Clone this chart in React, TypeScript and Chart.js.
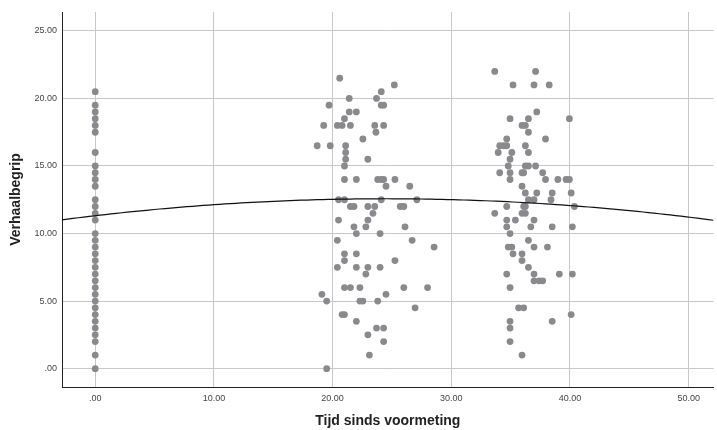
import React, { useEffect, useRef } from "react";
import { Chart, registerables } from "chart.js";

Chart.register(...registerables);

// Tijd sinds voormeting = 0 (all points at x = 0)
const GROUP0_SCORE = [
  20.5, 19.5, 19, 18.5, 18, 17.5, 16, 15, 14.5, 14, 13.5, 12.5, 12, 11.5, 11,
  10, 9.5, 9, 8.5, 8, 7.5, 7, 6.5, 6, 5.5, 5, 4.5, 4, 3.5, 3, 2.5, 2, 1, 0,
];

// Middle cluster (≈ 19–28)
const MID_TIME = [
  20.6, 25.2, 21.4, 24.1, 23.7, 19.7, 24.1, 24.3, 21.4, 22.0, 21.0, 19.25, 20.4, 20.8, 21.5, 23.55, 24.3,
  23.65, 22.55, 18.7, 19.8, 21.1, 21.1, 21.1, 22.97, 21.0, 21.0, 22.0, 23.8, 24.1, 24.3, 25.25, 24.5, 26.5,
  20.5, 21.0, 24.1, 27.1, 21.5, 21.8, 22.97, 23.55, 25.7, 26.0, 23.4, 20.5, 22.97, 21.8, 22.8, 26.1, 22.0,
  24.0, 20.4, 26.7, 28.55, 21.0, 22.0, 21.0, 25.25, 20.4, 22.0, 22.97, 24.0, 22.8, 21.0, 21.5, 22.3, 26.0,
  28.0, 19.1, 24.5, 19.5, 22.3, 22.55, 23.8, 26.95, 20.8, 21.0, 22.0, 23.7, 24.3, 22.97, 24.3, 23.1, 19.5,
];
const MID_SCORE = [
  21.5, 21, 20, 20.5, 20, 19.5, 19.5, 19.5, 19, 19, 18.5, 18, 18, 18, 18, 18, 18,
  17.5, 17, 16.5, 16.5, 16.5, 16, 15.5, 15.5, 15, 14, 14, 14, 14, 14, 14, 13.5, 13.5,
  12.5, 12.5, 12.5, 12.5, 12, 12, 12, 12, 12, 12, 11.5, 11, 11, 10.5, 10.5, 10.5, 10,
  10, 9.5, 9.5, 9, 8.5, 8.5, 8, 8, 7.5, 7.5, 7.5, 7.5, 7, 6, 6, 6, 6,
  6, 5.5, 5.5, 5, 5, 5, 5, 4.5, 4, 4, 3.5, 3, 3, 2.5, 2, 1, 0,
];

// Right cluster (≈ 33–41)
const RIGHT_TIME = [
  33.66, 37.1, 35.2, 36.97, 38.25, 37.2, 34.95, 36.5, 39.95, 35.96, 36.24, 36.5, 37.94, 34.67, 34.08, 34.4,
  34.67, 36.24, 33.95, 35.1, 36.5, 34.95, 34.8, 36.24, 36.5, 37.1, 34.08, 34.95, 35.96, 36.1, 37.7, 34.95,
  37.94, 38.98, 39.67, 39.95, 35.96, 36.24, 37.2, 38.5, 40.1, 36.5, 36.97, 38.4, 34.67, 36.1, 36.24, 40.37,
  33.66, 35.96, 36.24, 34.67, 35.4, 36.97, 34.67, 36.7, 38.5, 40.2, 34.95, 36.5, 34.8, 35.1, 36.97, 38.1,
  35.2, 35.96, 35.96, 36.5, 34.67, 36.97, 39.1, 40.2, 36.97, 37.4, 37.7, 34.95, 35.67, 36.1, 40.1, 34.95,
  38.5, 34.95, 34.95, 35.96,
];
const RIGHT_SCORE = [
  22, 22, 21, 21, 21, 19, 18.5, 18.5, 18.5, 18, 18, 17.5, 17, 17, 16.5, 16.5,
  16.5, 16.5, 16, 16, 16, 15.5, 15, 15, 15, 15, 14.5, 14.5, 14.5, 14.5, 14.5, 14,
  14, 14, 14, 14, 13.5, 13, 13, 13, 13, 12.5, 12.5, 12.5, 12, 12, 12, 12,
  11.5, 11.5, 11.5, 11, 11, 11, 10.5, 10.5, 10.5, 10.5, 10, 9.5, 9, 9, 9, 9,
  8.5, 8.5, 8, 7.5, 7, 7, 7, 7, 6.5, 6.5, 6.5, 6, 4.5, 4.5, 4, 3.5,
  3.5, 3, 2, 1,
];

// Quadratic fit line (b0 + b1*x + b2*x^2)
const FIT_COEFFS = [11.32, 0.1024, -0.00209];

const X_TICKS = [0, 10, 20, 30, 40, 50];
const X_TICK_LABELS = [".00", "10.00", "20.00", "30.00", "40.00", "50.00"];
const Y_TICKS = [0, 5, 10, 15, 20, 25];
const Y_TICK_LABELS = [".00", "5.00", "10.00", "15.00", "20.00", "25.00"];

const X_MIN = -2.8;
const X_MAX = 52.1;
const Y_MIN = -1.36;
const Y_MAX = 26.4;

const FONT = "'Liberation Sans', Arial, sans-serif";
const POINT_COLOR = "#8a8a8e";

export default function App() {
  const canvasRef = useRef<HTMLCanvasElement | null>(null);

  useEffect(() => {
    document.body.style.margin = "0";
    const canvas = canvasRef.current;
    if (!canvas) return;

    const points: { x: number; y: number }[] = [];
    GROUP0_SCORE.forEach((y) => points.push({ x: 0, y }));
    MID_TIME.forEach((x, i) => points.push({ x, y: MID_SCORE[i] }));
    RIGHT_TIME.forEach((x, i) => points.push({ x, y: RIGHT_SCORE[i] }));

    const fit: { x: number; y: number }[] = [];
    const steps = 120;
    for (let i = 0; i <= steps; i++) {
      const x = X_MIN + ((X_MAX - X_MIN) * i) / steps;
      fit.push({ x, y: FIT_COEFFS[0] + FIT_COEFFS[1] * x + FIT_COEFFS[2] * x * x });
    }

    const chart = new Chart(canvas, {
      type: "scatter",
      data: {
        datasets: [
          {
            type: "line",
            data: fit,
            borderColor: "#111111",
            borderWidth: 1.2,
            pointRadius: 0,
            fill: false,
            tension: 0,
            order: 0,
          } as any,
          {
            data: points,
            backgroundColor: POINT_COLOR,
            borderWidth: 0,
            pointRadius: 3.4,
            pointHoverRadius: 3.4,
            order: 1,
          },
        ],
      },
      options: {
        animation: false,
        responsive: false,
        devicePixelRatio: 1,
        layout: { padding: { top: 12, right: 0, left: 0, bottom: 0 } },
        plugins: {
          legend: { display: false },
          tooltip: { enabled: false },
        },
        scales: {
          x: {
            type: "linear",
            min: X_MIN,
            max: X_MAX,
            afterBuildTicks: (s: any) => {
              s.ticks = X_TICKS.map((v) => ({ value: v }));
            },
            afterFit: (s: any) => {
              s.height = 43;
            },
            ticks: {
              autoSkip: false,
              maxRotation: 0,
              padding: 6,
              color: "#444444",
              font: { family: FONT, size: 9 },
              callback: (v: any) => {
                const i = X_TICKS.indexOf(Number(v));
                return i >= 0 ? X_TICK_LABELS[i] : "";
              },
            },
            grid: { color: "#c8c8c8", lineWidth: 1, drawTicks: false },
            border: { display: true, color: "#222222", width: 1 },
            title: {
              display: true,
              text: "Tijd sinds voormeting",
              color: "#222222",
              font: { family: FONT, size: 14, weight: "bold" },
              padding: { top: 0, bottom: 0 },
            },
          },
          y: {
            type: "linear",
            min: Y_MIN,
            max: Y_MAX,
            afterBuildTicks: (s: any) => {
              s.ticks = Y_TICKS.map((v) => ({ value: v }));
            },
            afterFit: (s: any) => {
              s.width = 62;
            },
            ticks: {
              autoSkip: false,
              padding: 5,
              color: "#444444",
              font: { family: FONT, size: 9 },
              callback: (v: any) => {
                const i = Y_TICKS.indexOf(Number(v));
                return i >= 0 ? Y_TICK_LABELS[i] : "";
              },
            },
            grid: { color: "#c8c8c8", lineWidth: 1, drawTicks: false },
            border: { display: true, color: "#222222", width: 1 },
            title: {
              display: true,
              text: "Verhaalbegrip",
              color: "#222222",
              font: { family: FONT, size: 14, weight: "bold" },
              padding: { top: 7.5, bottom: 0 },
            },
          },
        },
      },
    });

    return () => chart.destroy();
  }, []);

  return (
    <div style={{ position: "absolute", left: 0, top: 0, width: 717, height: 430, background: "#fff" }}>
      <canvas ref={canvasRef} width={717} height={430} style={{ display: "block" }} />
    </div>
  );
}
